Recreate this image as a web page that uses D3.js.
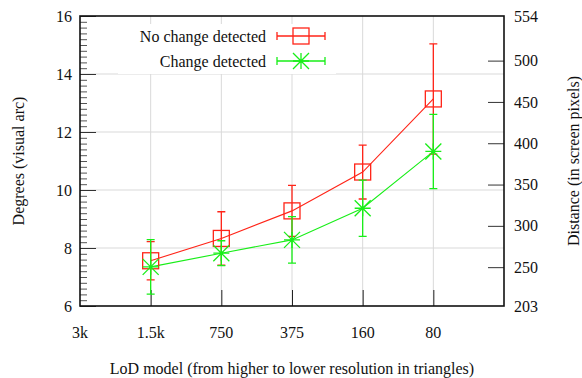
<!DOCTYPE html>
<html>
<head>
<meta charset="utf-8">
<script src="https://cdn.jsdelivr.net/npm/d3@7"></script>
<style>
  body { margin: 0; background: #fff; }
  svg text { font-family: "Liberation Serif", "Times New Roman", Times, Tinos, "DejaVu Serif", "Noto Serif", serif; }
  .tick-label { font-size: 16px; fill: #111; }
  .title { font-size: 16px; fill: #111; }
</style>
</head>
<body>
<svg id="chart" width="582" height="378"></svg>
<script>
// x positions (3k is the left edge, an empty slot closes the right edge)
const xLabels = ['3k', '1.5k', '750', '375', '160', '80'];
const categories = ['1.5k', '750', '375', '160', '80'];

// No change detected: mean and half error bar (degrees)
const noChangeMean = [7.56, 8.33, 9.28, 10.62, 13.14];
const noChangeErr = [0.66, 0.92, 0.88, 0.93, 1.90];

// Change detected
const changeMean = [7.35, 7.82, 8.28, 9.37, 11.33];
const changeErr = [0.94, 0.43, 0.80, 0.97, 1.28];

const leftTicks = [6, 8, 10, 12, 14, 16];
const rightTicks = [203, 250, 300, 350, 400, 450, 500, 554];

const FONT = '"Liberation Serif", "Times New Roman", Times, Tinos, "DejaVu Serif", serif';
const MARGIN = { top: 16, right: 78, bottom: 72, left: 80 };
const W = 582, H = 378;
const RED = '#ff2418';
const GREEN = '#18ee18';
const GRID = '#d9d9d9';
const AXIS = '#111';

const svg = d3.select('#chart');
const x0 = MARGIN.left, x1 = W - MARGIN.right;
const y0 = H - MARGIN.bottom, y1 = MARGIN.top;

const x = d3.scalePoint()
  .domain([...xLabels, ''])
  .range([x0, x1])
  .padding(0);

const y = d3.scaleLinear().domain([6, 16]).range([y0, y1]);
const y2 = d3.scaleLinear().domain([203, 554]).range([y0, y1]);

// GRID
const gGrid = svg.append('g');
gGrid.selectAll('line.gx')
  .data(categories)
  .join('line')
  .attr('x1', d => x(d)).attr('x2', d => x(d))
  .attr('y1', y1).attr('y2', y0)
  .attr('stroke', GRID).attr('stroke-width', 1);
gGrid.selectAll('line.gy')
  .data(leftTicks.slice(1, -1))
  .join('line')
  .attr('x1', x0).attr('x2', x1)
  .attr('y1', d => y(d)).attr('y2', d => y(d))
  .attr('stroke', GRID).attr('stroke-width', 1);

// LEGEND BOX (opaque, hides the grid)
svg.append('rect')
  .attr('x', 118).attr('y', 24)
  .attr('width', 218).attr('height', 50)
  .attr('fill', '#fff');

// AXES
const axisL = d3.axisRight(y).tickValues(leftTicks).tickSize(16).tickFormat('');
svg.append('g').attr('transform', `translate(${x0},0)`).call(axisL)
  .call(g => g.select('.domain').remove())
  .selectAll('line').attr('stroke', '#333');

const minor = d3.range(6, 16.001, 0.2).filter(v => Math.abs(v / 2 - Math.round(v / 2)) > 0.01);
const axisLm = d3.axisRight(y).tickValues(minor).tickSize(7).tickFormat('');
svg.append('g').attr('transform', `translate(${x0},0)`).call(axisLm)
  .call(g => g.select('.domain').remove())
  .selectAll('line').attr('stroke', '#555');

const axisR = d3.axisLeft(y2).tickValues(rightTicks.slice(1, -1)).tickSize(16).tickFormat('');
svg.append('g').attr('transform', `translate(${x1},0)`).call(axisR)
  .call(g => g.select('.domain').remove())
  .selectAll('line').attr('stroke', '#333');

const axisB = d3.axisTop(x).tickValues(categories).tickSize(16).tickFormat('');
svg.append('g').attr('transform', `translate(0,${y0})`).call(axisB)
  .call(g => g.select('.domain').remove())
  .selectAll('line').attr('stroke', '#222');

// tick labels
svg.append('g').selectAll('text')
  .data(leftTicks)
  .join('text')
  .attr('class', 'tick-label')
  .attr('font-family', FONT)
  .attr('x', x0 - 8).attr('y', d => y(d))
  .attr('dy', '0.35em')
  .attr('text-anchor', 'end')
  .text(d => d);

svg.append('g').selectAll('text')
  .data(rightTicks)
  .join('text')
  .attr('class', 'tick-label')
  .attr('font-family', FONT)
  .attr('x', x1 + 10).attr('y', d => y2(d))
  .attr('dy', '0.35em')
  .attr('text-anchor', 'start')
  .text(d => d);

svg.append('g').selectAll('text')
  .data(xLabels)
  .join('text')
  .attr('class', 'tick-label')
  .attr('font-family', FONT)
  .attr('x', d => x(d)).attr('y', y0 + 26)
  .attr('dy', '0.35em')
  .attr('text-anchor', 'middle')
  .text(d => d);

// frame
svg.append('rect')
  .attr('x', x0).attr('y', y1)
  .attr('width', x1 - x0).attr('height', y0 - y1)
  .attr('fill', 'none').attr('stroke', AXIS).attr('stroke-width', 1.6);

// TITLES
svg.append('text').attr('class', 'title').attr('font-family', FONT)
  .attr('x', (x0 + x1) / 2).attr('y', y0 + 62)
  .attr('dy', '0.35em').attr('text-anchor', 'middle')
  .text('LoD model (from higher to lower resolution in triangles)');

svg.append('text').attr('class', 'title').attr('font-family', FONT)
  .attr('transform', `translate(18,${(y0 + y1) / 2}) rotate(-90)`)
  .attr('dy', '0.35em').attr('text-anchor', 'middle')
  .text('Degrees (visual arc)');

svg.append('text').attr('class', 'title').attr('font-family', FONT)
  .attr('transform', `translate(573,${(y0 + y1) / 2}) rotate(-90)`)
  .attr('dy', '0.35em').attr('text-anchor', 'middle')
  .text('Distance (in screen pixels)');

// SERIES
const series = [
  { name: 'No change detected', mean: noChangeMean, err: noChangeErr, color: RED, symbol: 'square' },
  { name: 'Change detected', mean: changeMean, err: changeErr, color: GREEN, symbol: 'star' }
];

const line = d3.line()
  .x((d, i) => x(categories[i]))
  .y(d => y(d));

function drawSymbol(g, type, color) {
  if (type === 'square') {
    g.append('rect')
      .attr('x', -8).attr('y', -8).attr('width', 16).attr('height', 16)
      .attr('fill', 'none').attr('stroke', color).attr('stroke-width', 1.3);
  } else {
    g.append('path')
      .attr('d', 'M-8,0H8M0,-8V8M-8,-8L8,8M-8,8L8,-8')
      .attr('stroke', color).attr('stroke-width', 1.3).attr('fill', 'none');
  }
}

function drawErrorBar(g, lo, hi, color) {
  g.append('path')
    .attr('d', `M0,${lo}V${hi}M-4,${lo}H4M-4,${hi}H4`)
    .attr('stroke', color).attr('stroke-width', 1.3).attr('fill', 'none');
}

series.forEach(s => {
  svg.append('path')
    .datum(s.mean)
    .attr('d', line)
    .attr('fill', 'none')
    .attr('stroke', s.color)
    .attr('stroke-width', 1.1);
});

series.forEach(s => {
  s.mean.forEach((m, i) => {
    const cx = x(categories[i]);
    const g = svg.append('g').attr('transform', `translate(${cx},0)`);
    drawErrorBar(g, y(m - s.err[i]), y(m + s.err[i]), s.color);
    const gp = svg.append('g').attr('transform', `translate(${cx},${y(m)})`);
    drawSymbol(gp, s.symbol, s.color);
  });
});

// LEGEND
const legend = svg.append('g');
series.forEach((s, i) => {
  const ly = 36 + i * 25;
  legend.append('text').attr('class', 'title').attr('font-family', FONT)
    .attr('x', 266).attr('y', ly).attr('dy', '0.35em')
    .attr('text-anchor', 'end')
    .text(s.name);
  legend.append('path')
    .attr('d', `M277,${ly}H325M277,${ly - 4}V${ly + 4}M325,${ly - 4}V${ly + 4}`)
    .attr('stroke', s.color).attr('stroke-width', 1.3).attr('fill', 'none');
  const gs = legend.append('g').attr('transform', `translate(301,${ly})`);
  drawSymbol(gs, s.symbol, s.color);
});
</script>
</body>
</html>
